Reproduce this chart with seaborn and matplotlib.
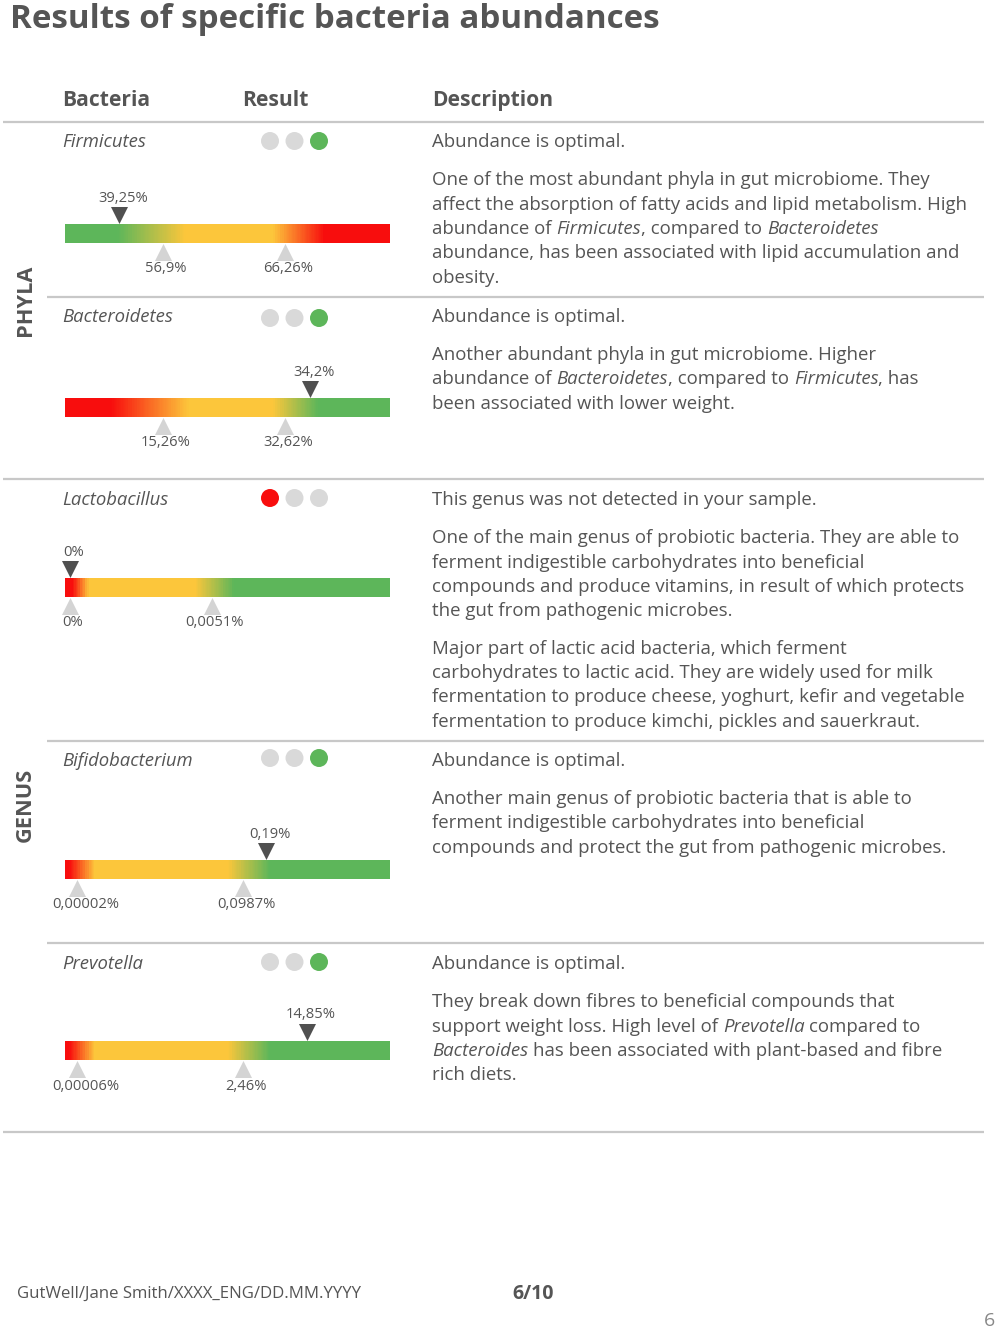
import numpy as np
import matplotlib
matplotlib.use('Agg')
import matplotlib.pyplot as plt
from matplotlib.colors import LinearSegmentedColormap
from matplotlib import font_manager
import seaborn as sns

# ------------------------------------------
# Data
# ------------------------------------------
bacteria = ['Firmicutes', 'Bacteroidetes', 'Lactobacillus', 'Bifidobacterium', 'Prevotella']
results = [39.25, 34.2, 0.0, 0.19, 14.85]
result_labels = ['39,25%', '34,2%', '0%', '0,19%', '14,85%']
low_limits = [56.9, 15.26, 0.0, 0.00002, 0.00006]
high_limits = [66.26, 32.62, 0.0051, 0.0987, 2.46]
low_labels = ['56,9%', '15,26%', '0%', '0,00002%', '0,00006%']
high_labels = ['66,26%', '32,62%', '0,0051%', '0,0987%', '2,46%']
# estimated ends of each gauge scale
scale_min = [17.4, 0.0, -0.000175, -0.0071, -0.178]
scale_max = [80.0, 39.25, 0.0115, 0.688, 30.9]
status = ['optimal', 'optimal', 'not detected', 'optimal', 'optimal']
groups = ['PHYLA', 'GENUS']

descriptions = [
    ['Abundance is optimal.', '',
     'One of the most abundant phyla in gut microbiome. They',
     'affect the absorption of fatty acids and lipid metabolism. High',
     'abundance of *Firmicutes*, compared to *Bacteroidetes*',
     'abundance, has been associated with lipid accumulation and',
     'obesity.'],
    ['Abundance is optimal.', '',
     'Another abundant phyla in gut microbiome. Higher',
     'abundance of *Bacteroidetes*, compared to *Firmicutes*, has',
     'been associated with lower weight.'],
    ['This genus was not detected in your sample.', '',
     'One of the main genus of probiotic bacteria. They are able to',
     'ferment indigestible carbohydrates into beneficial',
     'compounds and produce vitamins, in result of which protects',
     'the gut from pathogenic microbes.', '',
     'Major part of lactic acid bacteria, which ferment',
     'carbohydrates to lactic acid. They are widely used for milk',
     'fermentation to produce cheese, yoghurt, kefir and vegetable',
     'fermentation to produce kimchi, pickles and sauerkraut.'],
    ['Abundance is optimal.', '',
     'Another main genus of probiotic bacteria that is able to',
     'ferment indigestible carbohydrates into beneficial',
     'compounds and protect the gut from pathogenic microbes.'],
    ['Abundance is optimal.', '',
     'They break down fibres to beneficial compounds that',
     'support weight loss. High level of *Prevotella* compared to',
     '*Bacteroides* has been associated with plant-based and fibre',
     'rich diets.'],
]

# ------------------------------------------
# Style / layout (pixels on a 997x1331 page)
# ------------------------------------------
W, H = 997, 1331
TEXT = '#555555'
LINE = '#c8c8c8'
GREEN, YELLOW, RED, GREY = '#5db65a', '#fcc63b', '#f80d0d', '#d9d9d9'
BODY = 13.4

name_base = [147, 322, 505, 766, 969]
dot_y = [141, 318, 498, 758, 962]
bar_top = [224, 398, 578, 860, 1041]
bar_x0, bar_w, bar_h = 65, 325, 19
# where the two limits sit along each bar (fraction of bar length)
limit_pos = [(0.30, 0.677), (0.30, 0.677), (0.015, 0.452), (0.037, 0.548), (0.037, 0.548)]
gradients = [
    [(0, GREEN), (0.16, GREEN), (0.37, YELLOW), (0.64, YELLOW), (0.80, RED), (1, RED)],
    [(0, RED), (0.14, RED), (0.38, YELLOW), (0.64, YELLOW), (0.78, GREEN), (1, GREEN)],
    [(0, RED), (0.02, RED), (0.07, YELLOW), (0.40, YELLOW), (0.52, GREEN), (1, GREEN)],
    [(0, RED), (0.01, RED), (0.09, YELLOW), (0.50, YELLOW), (0.63, GREEN), (1, GREEN)],
    [(0, RED), (0.01, RED), (0.09, YELLOW), (0.50, YELLOW), (0.63, GREEN), (1, GREEN)],
]

sns.set_theme(style='white')
plt.rcParams['font.family'] = ['Open Sans', 'DejaVu Sans']
names = {f.name for f in font_manager.fontManager.ttflist}
footer_font = 'Liberation Sans Narrow' if 'Liberation Sans Narrow' in names else 'Open Sans'

fig = plt.figure(figsize=(W / 100, H / 100), dpi=100)
ax = fig.add_axes([0, 0, 1, 1])
ax.set_xlim(0, W)
ax.set_ylim(H, 0)
ax.set_axis_off()
renderer = fig.canvas.get_renderer()


def text_width(s, **kw):
    t = ax.text(0, 0, s, **kw)
    w = t.get_window_extent(renderer).width
    t.remove()
    return w


def rich_line(x, y, line, size=BODY):
    kw = dict(fontsize=size, color=TEXT, va='baseline', ha='left')
    space = text_width('a a', **kw) - text_width('aa', **kw)
    for i, part in enumerate(line.split('*')):
        if not part:
            continue
        style = 'italic' if i % 2 else 'normal'
        if part.startswith(' '):
            x += space
        core = part.strip(' ')
        if core:
            t = ax.text(x, y, core, style=style, **kw)
            x += t.get_window_extent(renderer).width
        if part.endswith(' ') and core:
            x += space


# title and header
ax.text(10, 28, 'Results of specific bacteria abundances', fontsize=23.9,
        weight='bold', color=TEXT, va='baseline')
for label, x in zip(['Bacteria', 'Result', 'Description'], [62, 242, 432]):
    ax.text(x, 106, label, fontsize=15.1, weight='bold', color=TEXT, va='baseline')

# separators
for y, x0 in [(122, 3), (297, 47), (479, 3), (741, 47), (943, 47), (1132, 3)]:
    ax.plot([x0, 984], [y, y], color=LINE, lw=1.6, solid_capstyle='butt')

# group labels
for g, y in zip(groups, [300, 805]):
    ax.text(25, y, g, rotation=90, fontsize=15.7, weight='bold',
            color=TEXT, ha='center', va='center')

# description column
for i, lines in enumerate(descriptions):
    y = name_base[i]
    ax.text(62, y, bacteria[i], fontsize=13.3, style='italic', color=TEXT, va='baseline')
    rich_line(432, y, lines[0])
    y += 38
    for ln in lines[2:]:
        if ln == '':
            y += 12.5
            continue
        rich_line(432, y, ln)
        y += 24.5


def make_scale(kv, kp):
    def fwd(v):
        return np.interp(v, kv, kp)

    def inv(p):
        return np.interp(p, kp, kv)
    return fwd, inv


for i in range(len(bacteria)):
    # traffic light
    dax = fig.add_axes([(270 - 12.25) / W, 1 - (dot_y[i] + 12) / H, 73.5 / W, 24 / H])
    lit = 2 if status[i] == 'optimal' else 0
    lit_col = GREEN if status[i] == 'optimal' else RED
    state = ['on' if k == lit else 'off' for k in range(3)]
    sns.scatterplot(x=[0, 1, 2], y=[0, 0, 0], hue=state,
                    palette={'on': lit_col, 'off': GREY}, s=168, linewidth=0,
                    legend=False, ax=dax)
    dax.set_xlim(-0.5, 2.5)
    dax.set_ylim(-1, 1)
    dax.set_axis_off()

    # gauge colour bar
    rect = [bar_x0 / W, 1 - (bar_top[i] + bar_h) / H, bar_w / W, bar_h / H]
    gax = fig.add_axes(rect)
    cmap = LinearSegmentedColormap.from_list(bacteria[i], gradients[i])
    sns.heatmap(np.linspace(0, 1, 400)[None, :], ax=gax, cmap=cmap, vmin=0, vmax=1,
                cbar=False, xticklabels=False, yticklabels=False)
    gax.set_axis_off()

    # markers on a scale that puts the limits at their places on the bar
    kv = [scale_min[i], low_limits[i], high_limits[i], scale_max[i]]
    kp = [0, limit_pos[i][0], limit_pos[i][1], 1]
    max_ = fig.add_axes(rect)
    max_.patch.set_alpha(0)
    max_.set_xscale('function', functions=make_scale(kv, kp))
    sns.scatterplot(x=[low_limits[i], high_limits[i]], y=[-0.45, -0.45], marker='^',
                    s=150, color='#d4d4d4', linewidth=0, legend=False, ax=max_)
    sns.scatterplot(x=[results[i]], y=[1.47], marker='v', s=150, color='#505050',
                    linewidth=0, legend=False, ax=max_)
    max_.set_xlim(scale_min[i], scale_max[i])
    max_.set_ylim(0, 1)
    max_.set_axis_off()
    for c in max_.collections:
        c.set_clip_on(False)
    max_.annotate(result_labels[i], (results[i], 1), xytext=(4, 26), textcoords='offset pixels',
                  ha='center', va='center', fontsize=10.6, color=TEXT)
    for v, lab in [(low_limits[i], low_labels[i]), (high_limits[i], high_labels[i])]:
        # labels that would run past the bar start are nudged right
        dx = 3 if len(lab) < 8 else 9
        max_.annotate(lab, (v, 0), xytext=(dx, -26), textcoords='offset pixels',
                      ha='center', va='center', fontsize=10.6, color=TEXT)

# footer
ax.text(17, 1298, 'GutWell/Jane Smith/XXXX_ENG/DD.MM.YYYY', fontsize=12.1,
        family=footer_font, color=TEXT, va='baseline')
ax.text(533, 1299, '6/10', fontsize=14, weight='bold', color=TEXT,
        ha='center', va='baseline')
ax.text(989, 1326, '6', fontsize=14, color='#888888', ha='center', va='baseline')

fig.savefig('out.png', dpi=100)
